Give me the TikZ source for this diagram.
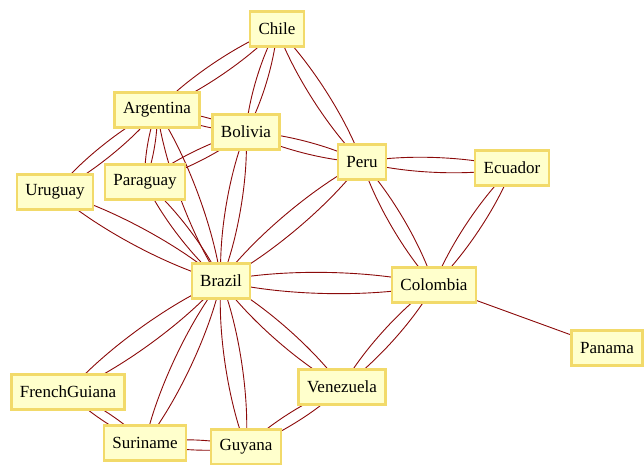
\documentclass[tikz,border=0pt]{standalone}
\usepackage{fontspec}
\setmainfont{Liberation Serif}
\usetikzlibrary{positioning,backgrounds}
\definecolor{boxfill}{HTML}{FFFFCC}
\definecolor{boxline}{HTML}{F2DA6A}
\definecolor{linkred}{HTML}{8B0A0A}

\tikzset{
  country/.style={draw=boxline, line width=2.4pt, fill=boxfill, rectangle,
    minimum height=35pt, inner xsep=8.5pt, font=\fontsize{17}{20}\selectfont},
  link/.style={draw=linkred, line width=0.9pt}
}

\begin{document}
\begin{tikzpicture}[x=1pt, y=-1pt]
  \useasboundingbox (0,0) rectangle (644,464);
  \node[country] (chile) at (277, 29) {Chile};
  \node[country] (argentina) at (157, 110) {Argentina};
  \node[country] (bolivia) at (246, 132) {Bolivia};
  \node[country] (peru) at (362, 162) {Peru};
  \node[country] (ecuador) at (512, 168) {Ecuador};
  \node[country] (uruguay) at (55, 192) {Uruguay};
  \node[country] (paraguay) at (145, 182) {Paraguay};
  \node[country] (brazil) at (221, 281) {Brazil};
  \node[country] (colombia) at (434, 285) {Colombia};
  \node[country] (panama) at (607, 348) {Panama};
  \node[country] (frenchguiana) at (68, 392) {FrenchGuiana};
  \node[country] (venezuela) at (342, 387) {Venezuela};
  \node[country] (suriname) at (145, 443) {Suriname};
  \node[country] (guyana) at (246, 447) {Guyana};
  % borders crossed both ways, drawn under the boxes
  \begin{scope}[on background layer]
    \foreach \a/\b in {chile/argentina, chile/bolivia, chile/peru,
        argentina/bolivia, argentina/uruguay, argentina/paraguay, argentina/brazil,
        bolivia/paraguay, bolivia/peru, bolivia/brazil,
        uruguay/brazil, paraguay/brazil,
        peru/ecuador, peru/colombia, peru/brazil, ecuador/colombia,
        brazil/colombia, colombia/venezuela,
        brazil/frenchguiana, brazil/suriname, brazil/guyana, brazil/venezuela,
        frenchguiana/suriname, suriname/guyana, guyana/venezuela} {
      \draw[link] (\a.center) to[bend left=13, looseness=0.75] (\b.center);
      \draw[link] (\a.center) to[bend right=13, looseness=0.75] (\b.center);
    }
    \draw[link] (colombia.center) -- (panama.center);
  \end{scope}
\end{tikzpicture}
\end{document}
